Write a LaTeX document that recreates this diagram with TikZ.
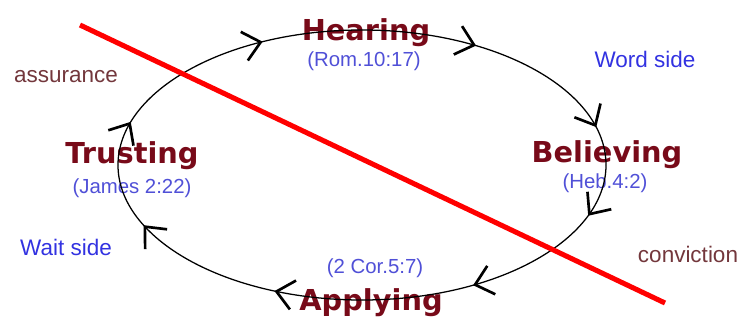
\documentclass[tikz,border=0pt]{standalone}
\usepackage{fontspec}
\setmainfont{Liberation Sans}
\newfontfamily\headfont{DejaVu Sans}
\usetikzlibrary{arrows.meta,decorations.markings,calc}

\definecolor{headred}{RGB}{120,10,25}
\definecolor{refblue}{RGB}{80,80,215}
\definecolor{sideblue}{RGB}{50,50,225}
\definecolor{sidebrown}{RGB}{115,55,60}

\tikzset{
  head/.style={anchor=base,inner sep=0pt,text=headred,font=\headfont\bfseries\fontsize{20.5}{24}\selectfont},
  ref/.style={anchor=base,inner sep=0pt,text=refblue,font=\fontsize{14.5}{17}\selectfont},
  side/.style={anchor=base,inner sep=0pt,font=\fontsize{16}{19}\selectfont},
  cyc/.style={line width=0.9pt,black},
  >={Straight Barb[length=12pt,width=21pt,line width=1.9pt]}
}
% one quarter of the cycle, with two arrow heads on it
\newcommand{\CYCarc}[5]{\draw[cyc,postaction={decorate,decoration={markings,
    mark=at position #4 with {\arrow{>}},mark=at position #5 with {\arrow{>}}}}]
    (#1) arc[start angle=#2,end angle=#3,x radius=61mm,y radius=33.75mm];}

\begin{document}
\begin{tikzpicture}[x=0.25mm,y=0.25mm]
  \useasboundingbox (0,0) rectangle (744,320);
  \coordinate (c) at (362,155);
  \coordinate (hp) at ($(c)+(90:61mm and 33.75mm)$);
  \coordinate (bp) at ($(c)+(0:61mm and 33.75mm)$);
  \coordinate (ap) at ($(c)+(-90:61mm and 33.75mm)$);
  \coordinate (tp) at ($(c)+(180:61mm and 33.75mm)$);

  \node[head] (hear) at (366,280) {Hearing};
  \node[ref]  (rom)  at (364,254) {(Rom.10:17)};
  \node[head] (beli) at (607,158) {Believing};
  \node[ref]  (heb)  at (605,132) {(Heb.4:2)};
  \node[head] (appl) at (371,10)  {Applying};
  \node[ref]  (cor)  at (375,47)  {(2 Cor.5:7)};
  \node[head] (trus) at (132,157) {Trusting};
  \node[ref]  (jam)  at (132,127) {(James 2:22)};

  \node[side,text=sideblue]  (word) at (645,253) {Word side};
  \node[side,text=sideblue]  (wait) at (66,65)   {Wait side};
  \node[side,text=sidebrown] (assu) at (66,238)  {assurance};
  \node[side,text=sidebrown] (conv) at (688,58)  {conviction};

  \CYCarc{hp}{90}{0}{0.38}{0.87}
  \CYCarc{bp}{0}{-90}{0.18}{0.63}
  \CYCarc{ap}{-90}{-180}{0.29}{0.78}
  \CYCarc{tp}{180}{90}{0.15}{0.67}

  \coordinate (s1) at (80,295);
  \coordinate (s2) at (665,17);
  \draw[red,line width=3.6pt] (s1) -- (s2);
\end{tikzpicture}
\end{document}
